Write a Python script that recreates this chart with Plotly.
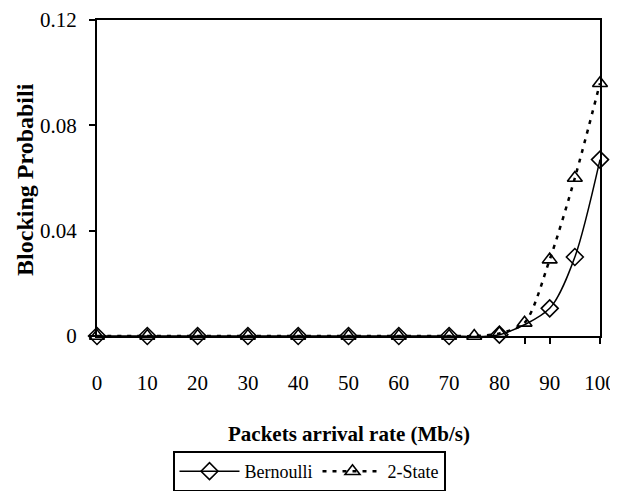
import plotly.graph_objects as go

bern_x = [0, 10, 20, 30, 40, 50, 60, 70, 80, 90, 95, 100]
bern_y = [0, 0, 0, 0, 0, 0, 0, 0, 0.0005, 0.0105, 0.03, 0.067]
two_x = [0, 10, 20, 30, 40, 50, 60, 70, 75, 80, 85, 90, 95, 100]
two_y = [0, 0, 0, 0, 0, 0, 0, 0, 0, 0.001, 0.005, 0.029, 0.06, 0.096]
x_ticks = [0, 10, 20, 30, 40, 50, 60, 70, 80, 90, 100]
x_minor_ticks = [85, 90, 100]
y_ticks = [0, 0.04, 0.08, 0.12]
y_labels = ["0", "0.04", "0.08", "0.12"]

FONT = "Liberation Serif, Times New Roman, serif"

# page body has an 8px default margin, so the figure is 8px smaller
W, H = 610, 483

fig = go.Figure()
fig.add_trace(go.Scatter(
    x=bern_x, y=bern_y, name="Bernoulli", mode="lines+markers",
    line=dict(color="black", width=1.5, shape="spline", smoothing=0.8),
    marker=dict(symbol="diamond-open", size=13, color="black", line=dict(width=1.6)),
    cliponaxis=False,
))
fig.add_trace(go.Scatter(
    x=two_x, y=two_y, name="2-State", mode="lines+markers",
    line=dict(color="black", width=2.5, dash="4px,6px", shape="spline", smoothing=0.8),
    marker=dict(symbol="triangle-up-open", size=13, color="black", line=dict(width=1.6)),
    cliponaxis=False,
))

fig.update_layout(
    width=W, height=H,
    margin=dict(l=89, r=18, t=12, b=155, autoexpand=False),
    paper_bgcolor="white", plot_bgcolor="white",
    font=dict(family=FONT, color="black", size=21),
    showlegend=True,
    legend=dict(
        orientation="h", xref="container", x=301 / W, xanchor="center",
        yref="container", y=1 - 443 / H, yanchor="top",
        bordercolor="black", borderwidth=2, font=dict(size=18, family=FONT),
        itemwidth=60, tracegroupgap=0,
    ),
    xaxis=dict(
        range=[0, 100], tickvals=x_ticks, ticks="outside", ticklen=0, tickwidth=0,
        showgrid=False, zeroline=False,
        showline=True, linecolor="black", linewidth=2, mirror=True,
        ticklabelstandoff=27, tickfont=dict(size=21), automargin=False,
        ticklabeloverflow="allow",
        minor=dict(tickmode="array", tickvals=x_minor_ticks, ticks="outside",
                   ticklen=6, tickwidth=2, tickcolor="black", showgrid=False),
    ),
    yaxis=dict(
        range=[0, 0.12], tickvals=y_ticks, ticktext=y_labels, ticks="outside",
        ticklen=6, tickwidth=2, tickcolor="black", showgrid=False, zeroline=False,
        showline=True, linecolor="black", linewidth=2, mirror=True,
        ticklabelstandoff=8, tickfont=dict(size=21), automargin=False,
        ticklabeloverflow="allow",
    ),
    annotations=[
        dict(text="<b>Packets arrival rate (Mb/s)</b>", xref="paper", yref="paper",
             x=0.5, y=0, xanchor="center", yanchor="middle", yshift=-98,
             showarrow=False, font=dict(size=21, family=FONT)),
        dict(text="<b>Blocking Probabili</b>", xref="paper", yref="paper",
             x=0, y=0.494, xanchor="center", yanchor="middle", xshift=-72,
             textangle=-90, showarrow=False, font=dict(size=24, family=FONT)),
    ],
)

fig.write_html("out.html")
